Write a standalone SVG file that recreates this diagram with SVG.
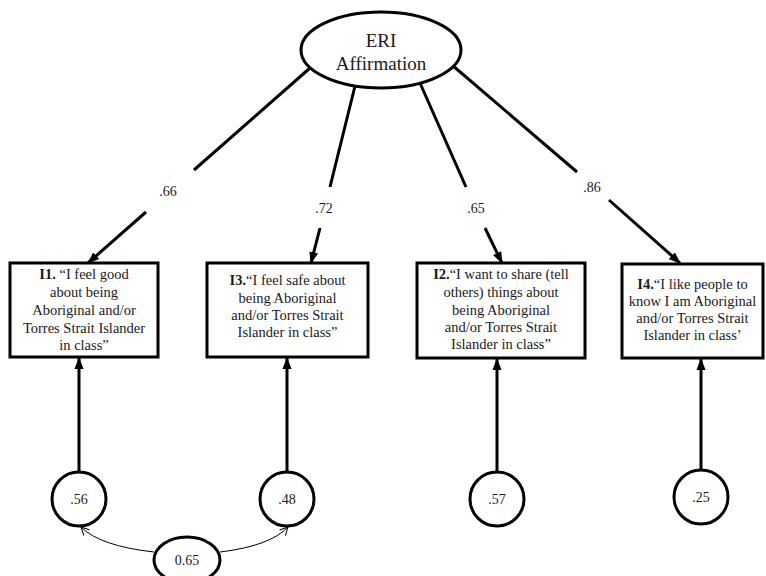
<svg xmlns="http://www.w3.org/2000/svg" width="766" height="576" viewBox="0 0 766 576">
<defs>
<marker id="ah" markerUnits="userSpaceOnUse" markerWidth="12" markerHeight="10" refX="11" refY="5" orient="auto">
<path d="M0,0.5 L12,5 L0,9.5 Z" fill="#000"/>
</marker>
<marker id="ov" markerUnits="userSpaceOnUse" markerWidth="10" markerHeight="10" refX="9" refY="5" orient="auto">
<path d="M1,1 L9,5 L1,9" fill="none" stroke="#000" stroke-width="1"/>
</marker>
</defs>
<style>
.t{font-family:"Liberation Serif","Times New Roman",serif;fill:#1a1a1a;text-anchor:middle}
.bx{font-size:14.5px}
.lb{font-size:14px}
.nd{fill:#fff;stroke:#000;stroke-width:3}
.ln{fill:none;stroke:#000;stroke-width:3}
.cv{fill:none;stroke:#000;stroke-width:1}
</style>
<rect width="766" height="576" fill="#fff"/>
<g id="connectors">
<path class="ln" d="M310,68 L194,170"/>
<path class="ln" d="M146,212 L88,263" marker-end="url(#ah)"/>
<path class="ln" d="M355,86 L330,187"/>
<path class="ln" d="M320,228 L311,263" marker-end="url(#ah)"/>
<path class="ln" d="M420,83 L466,187"/>
<path class="ln" d="M485,228 L502,263" marker-end="url(#ah)"/>
<path class="ln" d="M452,65 L577,172"/>
<path class="ln" d="M609,200 L680,263" marker-end="url(#ah)"/>
<path class="ln" d="M79,472 L79,358" marker-end="url(#ah)"/>
<path class="ln" d="M287,472 L287,358" marker-end="url(#ah)"/>
<path class="ln" d="M497,472 L497,359" marker-end="url(#ah)"/>
<path class="ln" d="M701,470 L701,359" marker-end="url(#ah)"/>
<path class="cv" d="M154,552 Q100,546 81,527" marker-end="url(#ov)"/>
<path class="cv" d="M220,552 Q270,546 288,527" marker-end="url(#ov)"/>
<text class="t lb" x="168" y="196">.66</text>
<text class="t lb" x="324" y="213">.72</text>
<text class="t lb" x="476" y="213">.65</text>
<text class="t lb" x="592" y="192">.86</text>
</g>
<g id="eri">
<ellipse class="nd" cx="381" cy="50" rx="80" ry="38"/>
<text class="t" font-size="19" x="381" y="47">ERI</text>
<text class="t" font-size="19" x="381" y="70">Affirmation</text>
</g>
<g id="i1">
<rect class="nd" x="10" y="263" width="148" height="94"/>
<text class="t bx" x="84" y="279"><tspan font-weight="bold">I1.</tspan> “I feel good</text>
<text class="t bx" x="84" y="297">about being</text>
<text class="t bx" x="84" y="315">Aboriginal and/or</text>
<text class="t bx" x="84" y="333">Torres Strait Islander</text>
<text class="t bx" x="84" y="350">in class”</text>
</g>
<g id="i3">
<rect class="nd" x="207" y="263" width="161" height="94"/>
<text class="t bx" x="287.5" y="285"><tspan font-weight="bold">I3.</tspan>“I feel safe about</text>
<text class="t bx" x="287.5" y="303">being Aboriginal</text>
<text class="t bx" x="287.5" y="320">and/or Torres Strait</text>
<text class="t bx" x="287.5" y="337">Islander in class”</text>
</g>
<g id="i2">
<rect class="nd" x="417" y="263" width="168" height="95"/>
<text class="t bx" x="501" y="279"><tspan font-weight="bold">I2.</tspan>“I want to share (tell</text>
<text class="t bx" x="501" y="297">others) things about</text>
<text class="t bx" x="501" y="315">being Aboriginal</text>
<text class="t bx" x="501" y="332">and/or Torres Strait</text>
<text class="t bx" x="501" y="349">Islander in class”</text>
</g>
<g id="i4">
<rect class="nd" x="622" y="264" width="141" height="94"/>
<text class="t bx" x="692.5" y="289"><tspan font-weight="bold">I4.</tspan>“I like people to</text>
<text class="t bx" x="692.5" y="306">know I am Aboriginal</text>
<text class="t bx" x="692.5" y="323">and/or Torres Strait</text>
<text class="t bx" x="692.5" y="340">Islander in class’</text>
</g>
<g id="e1">
<circle class="nd" cx="79" cy="499" r="27" stroke-width="2.5"/>
<text class="t lb" x="79" y="504">.56</text>
</g>
<g id="e3">
<circle class="nd" cx="287" cy="499" r="27" stroke-width="2.5"/>
<text class="t lb" x="287" y="504">.48</text>
</g>
<g id="e2">
<circle class="nd" cx="497" cy="499" r="27" stroke-width="2.5"/>
<text class="t lb" x="497" y="504">.57</text>
</g>
<g id="e4">
<circle class="nd" cx="701" cy="497" r="27" stroke-width="2.5"/>
<text class="t lb" x="701" y="502">.25</text>
</g>
<g id="cov">
<ellipse class="nd" cx="187" cy="560" rx="33" ry="23" stroke-width="2.5"/>
<text class="t lb" x="187" y="565">0.65</text>
</g>
</svg>
